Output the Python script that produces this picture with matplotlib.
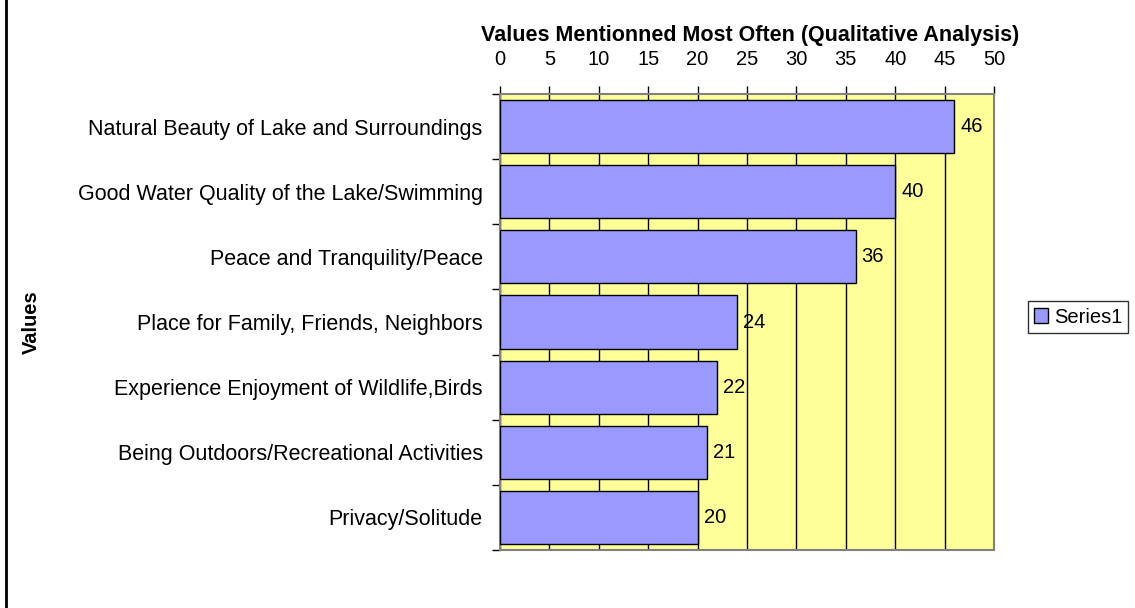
import matplotlib
matplotlib.use("Agg")
import matplotlib.pyplot as plt
from matplotlib.lines import Line2D
from matplotlib.patches import Patch
import numpy as np

categories = [
    "Natural Beauty of Lake and Surroundings",
    "Good Water Quality of the Lake/Swimming",
    "Peace and Tranquility/Peace",
    "Place for Family, Friends, Neighbors",
    "Experience Enjoyment of Wildlife,Birds",
    "Being Outdoors/Recreational Activities",
    "Privacy/Solitude",
]
counts = [46, 40, 36, 24, 22, 21, 20]
x_ticks = list(range(0, 51, 5))

plt.rcParams['font.family'] = ['Liberation Sans', 'DejaVu Sans']

fig = plt.figure(figsize=(11.35, 6.08), dpi=100)
ax = fig.add_axes([500 / 1135, 1 - 550 / 608, 494 / 1135, 456 / 608])
ax.set_facecolor('#FFFF99')

y = np.arange(len(categories))
ax.barh(y, counts, height=0.815, color='#9999FF', edgecolor='black', linewidth=1, zorder=3)

# value labels next to bars
for yi, v in zip(y, counts):
    ax.text(v + 0.6, yi, str(v), va='center', ha='left', fontsize=14.5, zorder=4)

ax.set_xlim(0, 50)
ax.set_ylim(len(categories) - 0.5, -0.5)
ax.set_xticks(x_ticks)
ax.xaxis.tick_top()
ax.tick_params(axis='x', which='major', length=6, width=1, labelsize=14.5, pad=12, direction='out')
ax.grid(axis='x', color='black', linewidth=1, zorder=1)
ax.set_axisbelow(True)

ax.set_yticks(y)
ax.set_yticklabels(categories)
ax.set_yticks(np.arange(-0.5, len(categories)), minor=True)
ax.tick_params(axis='y', which='major', length=0, labelsize=15.5, pad=12.5)
ax.tick_params(axis='y', which='minor', length=6, width=1, direction='out')

for s in ax.spines.values():
    s.set_color('#808080')
    s.set_linewidth(1.5)

fig.text(750 / 1135, 1 - 36 / 608, "Values Mentionned Most Often (Qualitative Analysis)",
         ha='center', va='center', fontsize=15.5, fontweight='bold')
fig.text(31 / 1135, 1 - 322 / 608, "Values", rotation=90, ha='center', va='center',
         fontsize=14.5, fontweight='bold')

handle = Patch(facecolor='#9999FF', edgecolor='black', linewidth=1)
fig.legend([handle], ["Series1"], loc='center', bbox_to_anchor=(1078 / 1135, 1 - 317 / 608),
           fontsize=14.5, frameon=True, fancybox=False, edgecolor='black',
           handlelength=0.7, handleheight=0.7, handletextpad=0.3, borderpad=0.3)

fig.add_artist(Line2D([6 / 1135, 6 / 1135], [0, 1], color='black', linewidth=2, transform=fig.transFigure))

plt.savefig('out.png', dpi=100)
